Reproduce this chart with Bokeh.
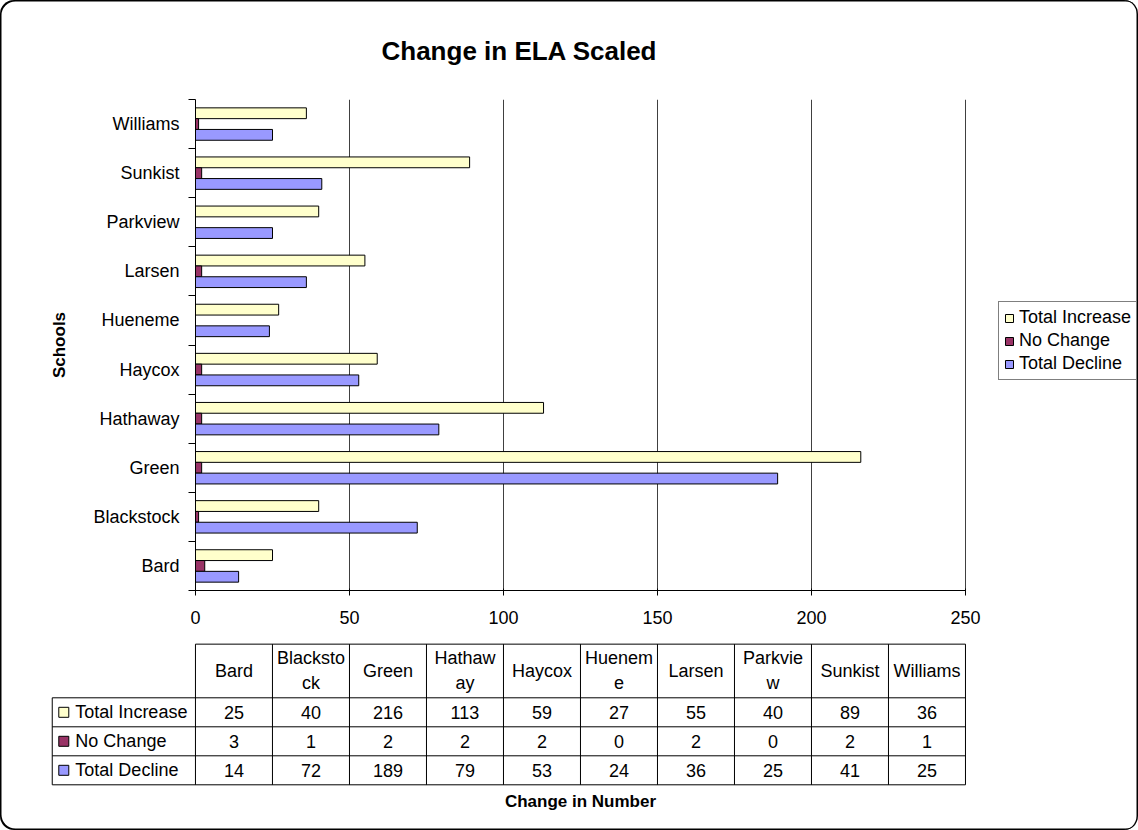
from bokeh.plotting import figure
from bokeh.models import Range1d, FixedTicker, Legend, LegendItem, ColumnDataSource
from bokeh.embed import file_html
from bokeh.resources import INLINE
from bokeh.core.properties import value

# ---------------- data ----------------
schools = ["Bard", "Blackstock", "Green", "Hathaway", "Haycox",
           "Hueneme", "Larsen", "Parkview", "Sunkist", "Williams"]
header_labels = ["Bard", "Blacksto\nck", "Green", "Hathaw\nay", "Haycox",
                 "Huenem\ne", "Larsen", "Parkvie\nw", "Sunkist", "Williams"]
total_increase = [25, 40, 216, 113, 59, 27, 55, 40, 89, 36]
no_change = [3, 1, 2, 2, 2, 0, 2, 0, 2, 1]
total_decline = [14, 72, 189, 79, 53, 24, 36, 25, 41, 25]
series_names = ["Total Increase", "No Change", "Total Decline"]
series_values = [total_increase, no_change, total_decline]
series_colors = ["#FFFFCC", "#993366", "#9999FF"]
x_ticks = [0, 50, 100, 150, 200, 250]

FONT = "Liberation Sans"
n = len(schools)

W = 1138
HA = 640
HB = 190

# ---------------- main chart ----------------
# the frame runs on to the right edge so that the legend can sit inside it;
# the value axis itself is bounded to 0..250
p = figure(width=W, height=HA, output_backend="svg", toolbar_location=None,
           x_range=Range1d(0, 305.84), y_range=Range1d(0, n),
           min_border_left=195, min_border_right=1,
           min_border_top=99, min_border_bottom=50,
           title="Change in ELA Scaled")
p.outline_line_color = None
p.background_fill_color = None
p.border_fill_color = None
p.styles = {"box-shadow": "inset 1.5px 1.5px 0 0 #000, inset -1.5px 0 0 0 #000",
            "border-radius": "14px 14px 0 0"}

p.title.align = "left"
p.title.offset = 186
p.title.text_font = FONT
p.title.text_font_size = "26px"
p.title.text_font_style = "bold"
p.title.text_color = "black"
p.title.standoff = 67

bar_h = 0.22
offsets = [bar_h, 0.0, -bar_h]
renderers = []
for name, vals, col, off in zip(series_names, series_values, series_colors, offsets):
    src = ColumnDataSource(dict(y=[i + 0.5 + off for i in range(n)], right=vals, school=schools))
    r = p.hbar(y="y", left=0, right="right", height=bar_h, source=src,
               fill_color=col, line_color="black", line_width=1)
    renderers.append(r)

# x axis
xa = p.xaxis[0]
xa.ticker = FixedTicker(ticks=x_ticks)
xa.bounds = (x_ticks[0], x_ticks[-1])
xa.major_tick_in = 2
xa.major_tick_out = 5
xa.major_tick_line_color = "black"
xa.axis_line_color = "black"
xa.major_label_text_font = FONT
xa.major_label_text_font_size = "18px"
xa.major_label_text_color = "black"
xa.major_label_standoff = 15

# y axis: labels centred in bands, tick marks between bands
ya = p.yaxis[0]
ya.ticker = FixedTicker(ticks=[i + 0.5 for i in range(n)], minor_ticks=list(range(n + 1)))
ya.major_label_overrides = {i + 0.5: s for i, s in enumerate(schools)}
ya.major_tick_line_color = None
ya.major_tick_out = 7
ya.major_tick_in = 0
ya.minor_tick_out = 7
ya.minor_tick_in = 0
ya.minor_tick_line_color = "black"
ya.axis_line_color = "black"
ya.major_label_text_font = FONT
ya.major_label_text_font_size = "18px"
ya.major_label_text_color = "black"
ya.major_label_standoff = 9
ya.axis_label = "Schools"
ya.axis_label_text_font = FONT
ya.axis_label_text_font_size = "17px"
ya.axis_label_text_font_style = "bold"
ya.axis_label_text_color = "black"
ya.axis_label_standoff = 21

p.xgrid.ticker = FixedTicker(ticks=x_ticks)
p.xgrid.grid_line_color = "#404040"
p.xgrid.grid_line_width = 1
p.ygrid.grid_line_color = None

legend = Legend(items=[LegendItem(label=nm, renderers=[r]) for nm, r in zip(series_names, renderers)],
                location=(803, 210), orientation="vertical")
legend.label_text_font = FONT
legend.label_text_font_size = "18px"
legend.label_text_color = "black"
legend.glyph_width = 10
legend.glyph_height = 10
legend.label_standoff = 5
legend.label_height = 20
legend.padding = 5
legend.spacing = 2
legend.margin = 0
legend.border_line_color = "black"
legend.border_line_width = 1
legend.background_fill_color = "white"
legend.background_fill_alpha = 1
p.add_layout(legend)

# ---------------- data table ----------------
label_left = -1.86
hdr_h = 1.85
hdr_top = 3 + hdr_h

q = figure(width=W, height=HB, output_backend="svg", toolbar_location=None,
           x_range=Range1d(-2.532, 12.247), y_range=Range1d(-1.576, 4.976),
           min_border=0, x_axis_location=None, y_axis_location=None, title=None)
q.grid.visible = False
q.outline_line_color = None
q.border_fill_color = None
q.background_fill_color = None
q.styles = {"box-shadow": "inset 1.5px -1.5px 0 0 #000, inset -1.5px 0 0 0 #000",
            "border-radius": "0 0 14px 14px"}

# grid lines of the table
x0, y0, x1, y1 = [], [], [], []
x0.append(0); y0.append(hdr_top); x1.append(n); y1.append(hdr_top)
for k in range(4):
    x0.append(label_left); y0.append(k); x1.append(n); y1.append(k)
x0.append(label_left); y0.append(0); x1.append(label_left); y1.append(3)
for j in range(n + 1):
    x0.append(j); y0.append(0); x1.append(j); y1.append(hdr_top)
q.segment(x0=x0, y0=y0, x1=x1, y1=y1, line_color="black", line_width=1)

# header
q.text(x=[j + 0.5 for j in range(n)], y=[3 + hdr_h / 2] * n, text=header_labels,
       text_font=value(FONT), text_font_size="18px", text_color="black",
       text_align="center", text_baseline="middle", text_line_height=1.25)

# values
vx, vy, vt = [], [], []
for r_i, vals in enumerate(series_values):
    for j, v in enumerate(vals):
        vx.append(j + 0.5); vy.append(2.5 - r_i); vt.append(str(v))
q.text(x=vx, y=vy, text=vt, text_font=value(FONT), text_font_size="18px",
       text_color="black", text_align="center", text_baseline="middle")

# row labels with swatches
row_y = [2.5 - r_i for r_i in range(3)]
q.scatter(x=[label_left + 0.15] * 3, y=row_y, marker="square", size=10,
          fill_color=series_colors, line_color="black", line_width=1)
q.text(x=[label_left + 0.30] * 3, y=row_y, text=series_names,
       text_font=value(FONT), text_font_size="18px", text_color="black",
       text_align="left", text_baseline="middle")

q.text(x=[n / 2], y=[-0.576], text=["Change in Number"], text_font=value(FONT),
       text_font_size="17px", text_font_style="bold", text_color="black",
       text_align="center", text_baseline="middle")

open("out.html", "w").write(file_html([p, q], INLINE))
